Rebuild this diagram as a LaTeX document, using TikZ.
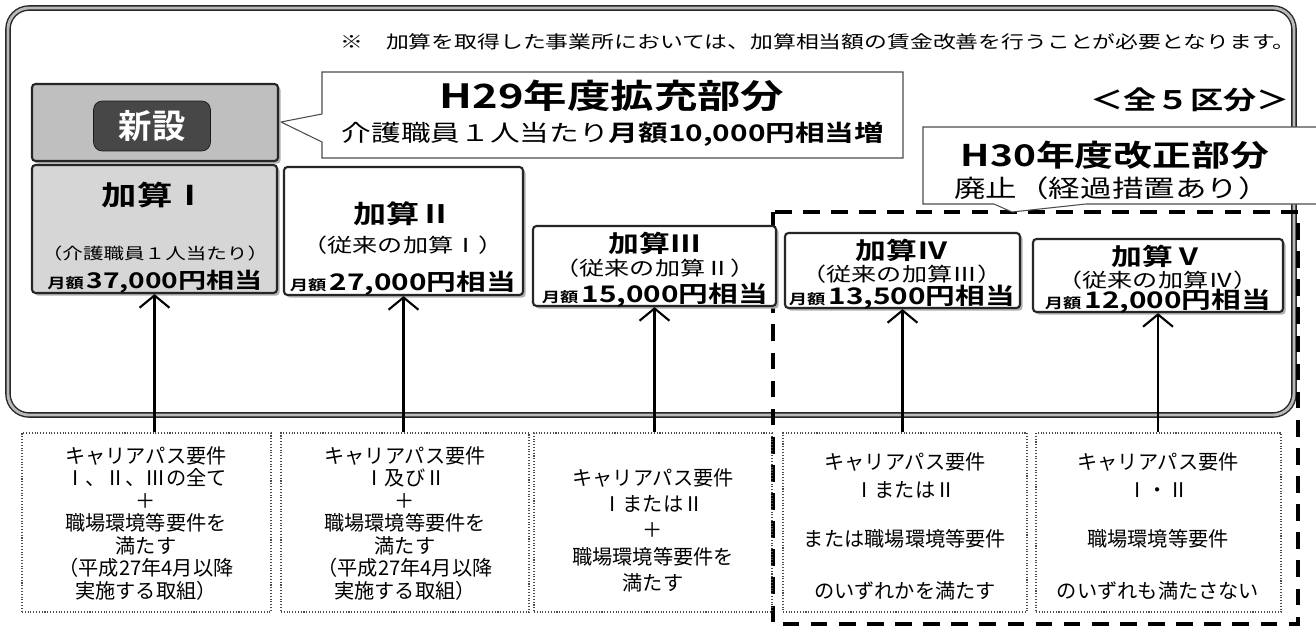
\documentclass[tikz,border=0pt]{standalone}
\usepackage{fontspec}
\setmainfont{Noto Sans CJK JP}[FakeStretch=1.3,BoldFont={Noto Sans CJK JP Bold}]
\newfontfamily\narrowjp{Noto Sans CJK JP}[BoldFont={Noto Sans CJK JP Bold}]
\usetikzlibrary{arrows.meta,fit,shadows}
\newcommand{\fsz}[2]{\fontsize{#1}{#2}\selectfont}
\newcommand{\getsugaku}[2][13]{{\fsz{8}{10}\bfseries 月額}\,{\fsz{#1}{15}\bfseries #2円相当}}

\begin{document}
\begin{tikzpicture}[x=0.02cm,y=-0.02cm]
    \tikzstyle{frame}=[draw=black!85,line width=0.8pt,double=gray!55,double distance=1.6pt,rounded corners=12pt]
    \tikzstyle{kasan box}=[draw=black!85,line width=1.2pt,fill=white,rounded corners=2pt,inner sep=0pt,drop shadow={shadow xshift=1.5pt,shadow yshift=-1.5pt,fill=gray!60,opacity=1}]
    \tikzstyle{req box}=[draw=black!70,densely dotted,line width=0.6pt,inner sep=0pt]
    \tikzstyle{speech}=[draw=black!70,line width=0.6pt,fill=white]
    \tikzstyle{h30 area}=[draw=black,line width=2.2pt,dash pattern=on 9.5pt off 6.5pt]
    \tikzstyle{kasan text}=[align=center,anchor=north,inner sep=0pt]
    \tikzstyle{req}=[align=center,anchor=north,inner sep=0pt]
    \tikzstyle{up arrow}=[-{Straight Barb[length=7pt,width=17pt]},line width=1.2pt]
    \tikzstyle{button}=[fill=black!72,draw=black!90,rounded corners=5pt,text=white,minimum width=2.34cm,minimum height=1cm]

    \fill[white] (0,0) rectangle (1316,635);
    \useasboundingbox (0,0) rectangle (1316,635);

    % outer frame and H30 area
    \draw[frame] (8,8) rectangle (1294,415);
    \draw[h30 area] (773,212) rectangle (1298,624);

    \node (note) at (818,42) {\fsz{10}{12}※　加算を取得した事業所においては、加算相当額の賃金改善を行うことが必要となります。};

    % H29 callout
    \draw[speech] (322,72) -- (903,72) -- (903,158) -- (322,158) -- (322,142) -- (281,122) -- (322,114) -- cycle;
    \node (h29t) at (612,96) {\fsz{19}{24}\bfseries H29年度拡充部分};
    \node (h29s) at (613,134) {\fsz{13}{16}介護職員１人当たり\textbf{月額10,000円相当増}};

    \node (zen5) at (1190,100) {\fsz{14.5}{18}\bfseries ＜全５区分＞};

    % H30 callout
    \draw[speech] (1320,127) -- (923,127) -- (923,204) -- (994,204) -- (1012,212) -- (1086,204) -- (1320,204);
    \node (h30t) at (1115,155) {\fsz{17}{20}\bfseries H30年度改正部分};
    \node (h30s) at (1112,188) {\fsz{13.8}{16}廃止（経過措置あり）};

    % new part
    \node[kasan box,fill=gray!50,fit={(32,84) (278,161)}] (shin) {};
    \node[button] (btn) at (152,126) {\narrowjp\fsz{19}{22}\bfseries 新設};

    % kasan boxes
    \node[kasan box,fill=gray!32,fit={(32,165) (277,293)}] (k1) {};
    \node[kasan box,fit={(284,167) (523,295)}] (k2) {};
    \node[kasan box,fit={(533,226) (776,306)}] (k3) {};
    \node[kasan box,fit={(785,233) (1020,308)}] (k4) {};
    \node[kasan box,fit={(1033,239) (1283,312)}] (k5) {};

    \node[kasan text,font={\fsz{9}{16.6}\lineskiplimit=-50pt}] (kt1) at (155,182)
        {{\fsz{15.5}{18}\bfseries 加算Ⅰ}\\[14pt]（介護職員１人当たり）\\\getsugaku[12.3]{37,000}};
    \node[kasan text,font={\fsz{11}{16.8}\lineskiplimit=-50pt}] (kt2) at (403,201)
        {{\fsz{14.5}{18}\bfseries 加算Ⅱ}\\（従来の加算Ⅰ）\\[4.5pt]\getsugaku{27,000}};
    \node[kasan text,font={\fsz{11}{13.3}\lineskiplimit=-50pt}] (kt3) at (655,231.5)
        {{\fsz{13.5}{16}\bfseries 加算Ⅲ}\\（従来の加算Ⅱ）\\[2.3pt]\getsugaku{15,000}};
    \node[kasan text,font={\fsz{11}{12.7}\lineskiplimit=-50pt}] (kt4) at (902,238.5)
        {{\fsz{13.5}{16}\bfseries 加算Ⅳ}\\（従来の加算Ⅲ）\\[0.6pt]\getsugaku{13,500}};
    \node[kasan text,font={\fsz{11}{12.7}\lineskiplimit=-50pt}] (kt5) at (1158,244.5)
        {{\fsz{13.5}{16}\bfseries 加算Ⅴ}\\（従来の加算Ⅳ）\\[-0.6pt]\getsugaku{12,000}};

    % requirement boxes
    \node[req box,fit={(22,433) (271,612)}] (r1) {};
    \node[req box,fit={(281,433) (529,612)}] (r2) {};
    \node[req box,fit={(534,433) (772,612)}] (r3) {};
    \node[req box,fit={(783,433) (1027,612)}] (r4) {};
    \node[req box,fit={(1036,433) (1281,612)}] (r5) {};

    \node[req,font={\narrowjp\fsz{11.5}{12.8}\lineskiplimit=-50pt}] (t1) at (146,446) {キャリアパス要件\\Ⅰ、Ⅱ、Ⅲの全て\\＋\\職場環境等要件を\\満たす\\（平成27年4月以降\\実施する取組）};
    \node[req,font={\narrowjp\fsz{11.5}{12.8}\lineskiplimit=-50pt}] (t2) at (405,446) {キャリアパス要件\\Ⅰ及びⅡ\\＋\\職場環境等要件を\\満たす\\（平成27年4月以降\\実施する取組）};
    \node[req,font={\narrowjp\fsz{11.5}{15}\lineskiplimit=-50pt}] (t3) at (653,468) {キャリアパス要件\\ⅠまたはⅡ\\＋\\職場環境等要件を\\満たす};
    \node[req,font={\narrowjp\fsz{11.5}{16}\lineskiplimit=-50pt}] (t4) at (905,452) {キャリアパス要件\\ⅠまたはⅡ\\[12pt]または職場環境等要件\\[13.6pt]のいずれかを満たす};
    \node[req,font={\narrowjp\fsz{11.5}{16}\lineskiplimit=-50pt}] (t5) at (1158,452) {キャリアパス要件\\Ⅰ・Ⅱ\\[12pt]職場環境等要件\\[13.6pt]のいずれも満たさない};

    % arrows
    \foreach \i in {1,...,5}
        \draw[up arrow] (k\i.south |- r\i.north) -- (k\i.south);
\end{tikzpicture}
\end{document}
